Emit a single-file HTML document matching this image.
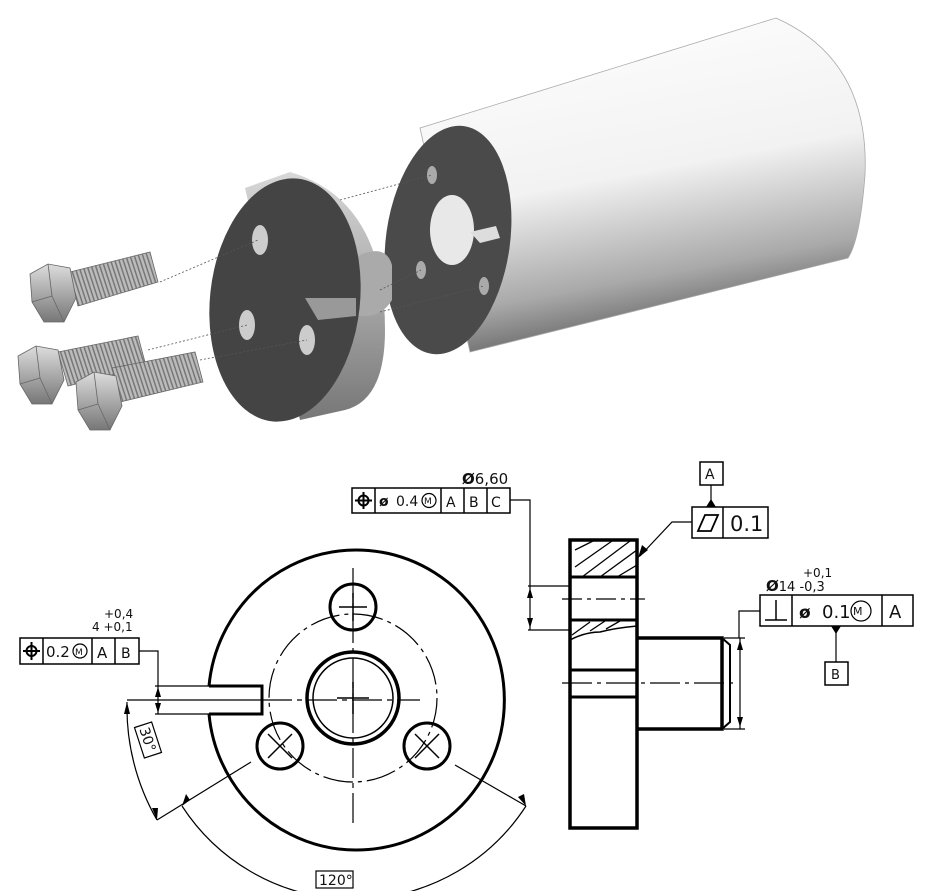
<!DOCTYPE html>
<html><head><meta charset="utf-8"><style>
html,body{margin:0;padding:0;background:#fff;}
svg{display:block}
text{font-family:"DejaVu Sans","Liberation Sans",sans-serif;fill:#111}
</style></head><body>
<svg width="930" height="891" viewBox="0 0 930 891" xmlns="http://www.w3.org/2000/svg">
<defs>
<linearGradient id="cyl" x1="0" y1="0" x2="0.25" y2="1">
<stop offset="0" stop-color="#fff"/><stop offset="0.55" stop-color="#f2f2f2"/><stop offset="0.85" stop-color="#a9a9a9"/><stop offset="1" stop-color="#6a6a6a"/></linearGradient>
<linearGradient id="rim" x1="0" y1="0" x2="0" y2="1">
<stop offset="0" stop-color="#d8d8d8"/><stop offset="1" stop-color="#777"/></linearGradient>
<linearGradient id="bolt" x1="0" y1="0" x2="0" y2="1">
<stop offset="0" stop-color="#ddd"/><stop offset="1" stop-color="#777"/></linearGradient>
<pattern id="thr" width="4" height="4" patternUnits="userSpaceOnUse" patternTransform="rotate(-18)">
<rect width="4" height="4" fill="#bbb"/><rect width="1.5" height="4" fill="#777"/></pattern>
</defs>

<!-- 3D: cylinder -->
<path d="M420,128 L776,18 Q870,60 865,175 Q860,240 848,258 L470,352 Z" fill="url(#cyl)" stroke="#aaa" stroke-width="0.8"/>
<ellipse cx="448" cy="240" rx="62" ry="115" fill="#4a4a4a" transform="rotate(8 448 240)"/>
<ellipse cx="452" cy="230" rx="22" ry="35" fill="#e8e8e8"/>
<ellipse cx="432" cy="175" rx="5" ry="9" fill="#aaa"/>
<ellipse cx="421" cy="270" rx="5" ry="9" fill="#aaa"/>
<ellipse cx="484" cy="286" rx="5" ry="9" fill="#aaa"/>
<path d="M470,232 L496,226 L500,238 L480,243Z" fill="#ddd"/>
<!-- flange -->
<path d="M245,188 L290,172 Q385,200 385,330 Q385,400 345,410 L300,420 Z" fill="url(#rim)"/>
<path d="M350,260 Q385,240 392,265 L392,300 Q380,320 355,315Z" fill="#aaa"/>
<ellipse cx="285" cy="300" rx="75" ry="122" fill="#444" transform="rotate(6 285 300)"/>
<path d="M305,298 L356,298 L356,316 L318,320Z" fill="#999"/>
<ellipse cx="260" cy="240" rx="8" ry="15" fill="#ccc"/>
<ellipse cx="247" cy="325" rx="8" ry="15" fill="#ccc"/>
<ellipse cx="307" cy="340" rx="8" ry="15" fill="#ccc"/>
<!-- dashed lines -->
<g stroke="#555" stroke-width="0.8" stroke-dasharray="2,2" fill="none">
<line x1="160" y1="282" x2="258" y2="240"/><line x1="340" y1="200" x2="432" y2="175"/>
<line x1="148" y1="350" x2="247" y2="325"/><line x1="200" y1="360" x2="307" y2="340"/>
<line x1="380" y1="290" x2="421" y2="270"/><line x1="380" y1="312" x2="484" y2="286"/>
</g>
<!-- bolts -->
<g stroke="#666" stroke-width="0.8">
<path d="M70,272 L150,252 L158,282 L78,306Z" fill="url(#thr)"/>
<polygon points="30,274 48,264 70,268 76,298 64,322 44,322 32,302" fill="url(#bolt)"/>
<line x1="48" y1="264" x2="52" y2="296"/><line x1="32" y1="302" x2="52" y2="296"/><line x1="52" y1="296" x2="64" y2="322"/>
<path d="M58,352 L138,336 L146,366 L68,386Z" fill="url(#thr)"/>
<polygon points="18,356 36,346 58,350 64,380 52,404 32,404 20,384" fill="url(#bolt)"/>
<line x1="36" y1="346" x2="40" y2="378"/><line x1="20" y1="384" x2="40" y2="378"/><line x1="40" y1="378" x2="52" y2="404"/>
<path d="M112,368 L195,352 L203,382 L120,402Z" fill="url(#thr)"/>
<polygon points="76,382 94,372 116,376 122,406 110,430 90,430 78,410" fill="url(#bolt)"/>
<line x1="94" y1="372" x2="98" y2="404"/><line x1="78" y1="410" x2="98" y2="404"/><line x1="98" y1="404" x2="110" y2="430"/>
</g>

<!-- 2D front view -->
<g fill="none" stroke="#000">
<path d="M209,686 A148,150 0 1 1 209,714" stroke-width="3"/>
<path d="M209,686 L262,686 L262,714 L209,714" stroke-width="3"/>
<circle cx="353" cy="698" r="46" stroke-width="3.5"/>
<circle cx="353" cy="698" r="40" stroke-width="1.5"/>
<circle cx="353" cy="607" r="23" stroke-width="3"/>
<circle cx="280" cy="746" r="23" stroke-width="3"/>
<circle cx="427" cy="746" r="23" stroke-width="3"/>
<g stroke-width="1.5">
<line x1="339" y1="607" x2="367" y2="607"/><line x1="353" y1="593" x2="353" y2="621"/>
<line x1="268" y1="734" x2="292" y2="758"/><line x1="292" y1="734" x2="268" y2="758"/>
<line x1="415" y1="734" x2="439" y2="758"/><line x1="439" y1="734" x2="415" y2="758"/>
<line x1="337" y1="698" x2="369" y2="698"/><line x1="353" y1="682" x2="353" y2="714"/>
</g>
<circle cx="353" cy="698" r="84" stroke-width="1.2" stroke-dasharray="30,5,4,5"/>
<line x1="353" y1="568" x2="353" y2="825" stroke-width="1.2" stroke-dasharray="30,5,5,5"/>
<line x1="262" y1="700" x2="420" y2="700" stroke-width="1.2" stroke-dasharray="30,5,5,5"/>
<g stroke-width="1.2">
<line x1="155" y1="686" x2="209" y2="686"/><line x1="155" y1="714" x2="209" y2="714"/>
<line x1="127" y1="700" x2="262" y2="700"/>
<polyline points="139,651 158,651 158,714"/>
<path d="M127,702 A226,226 0 0 0 157,820"/>
<line x1="157" y1="820" x2="251" y2="762"/>
<line x1="455" y1="765" x2="526" y2="806"/>
<path d="M182,806 A205,205 0 0 0 526,806"/>
<polyline points="510,500 530,500 530,630"/>
<line x1="528" y1="586" x2="570" y2="586"/><line x1="528" y1="630" x2="570" y2="630"/>
</g>
</g>
<g fill="#000">
<polygon points="127,702 124,714 130,714"/>
<polygon points="157,820 152,808 158,808"/>
<polygon points="182,806 186,794 190,800"/>
<polygon points="526,806 518,797 524,794"/>
<polygon points="530,588 527,598 533,598"/><polygon points="530,628 527,618 533,618"/>
<polygon points="158,687 155,697 161,697"/><polygon points="158,713 155,703 161,703"/>
</g>
<!-- FCF left -->
<g fill="none" stroke="#000" stroke-width="1.5">
<rect x="20" y="638" width="119" height="26"/>
<line x1="43" y1="638" x2="43" y2="664"/><line x1="92" y1="638" x2="92" y2="664"/><line x1="115" y1="638" x2="115" y2="664"/>
<circle cx="31.5" cy="651" r="5" stroke-width="2"/><line x1="23" y1="651" x2="40" y2="651" stroke-width="2"/><line x1="31.5" y1="642" x2="31.5" y2="660" stroke-width="2"/>
<circle cx="80" cy="651" r="7" stroke-width="1.2"/>
</g>
<text x="46" y="657" font-size="15">0.2</text><text x="75" y="655" font-size="9">M</text>
<text x="97" y="658" font-size="15">A</text><text x="121" y="658" font-size="14">B</text>
<text x="104" y="618" font-size="12">+0,4</text><text x="92" y="631" font-size="12">4 +0,1</text>
<!-- FCF top -->
<g fill="none" stroke="#000" stroke-width="1.5">
<rect x="352" y="488" width="158" height="25"/>
<line x1="375" y1="488" x2="375" y2="513"/><line x1="441" y1="488" x2="441" y2="513"/><line x1="464" y1="488" x2="464" y2="513"/><line x1="487" y1="488" x2="487" y2="513"/>
<circle cx="363.5" cy="500.5" r="5" stroke-width="2"/><line x1="355" y1="500.5" x2="372" y2="500.5" stroke-width="2"/><line x1="363.5" y1="492" x2="363.5" y2="509" stroke-width="2"/>
<circle cx="429" cy="500.5" r="7" stroke-width="1.2"/>
</g>
<text x="379" y="506" font-size="14" font-weight="bold">ø</text>
<text x="396" y="506" font-size="14">0.4</text><text x="424" y="504" font-size="9">M</text>
<text x="446" y="507" font-size="14">A</text><text x="469" y="507" font-size="14">B</text><text x="491" y="507" font-size="14">C</text>
<text x="462" y="484" font-size="15"><tspan font-weight="bold">Ø</tspan>6,60</text>
<g transform="translate(148,740) rotate(72)"><rect x="-16" y="-9" width="32" height="18" fill="#fff" stroke="#000" stroke-width="1.2"/><text x="-13" y="5" font-size="14">30°</text></g>
<rect x="316" y="871" width="37" height="17" fill="#fff" stroke="#000" stroke-width="1.2"/><text x="319" y="885" font-size="14">120°</text>

<!-- side view -->
<g fill="none" stroke="#000">
<rect x="570" y="540" width="67" height="288" stroke-width="3.5"/>
<line x1="570" y1="577" x2="637" y2="577" stroke-width="3"/>
<line x1="570" y1="620" x2="637" y2="620" stroke-width="3"/>
<line x1="570" y1="670" x2="637" y2="670" stroke-width="3"/>
<line x1="570" y1="697" x2="637" y2="697" stroke-width="3"/>
<path d="M570,640 Q585,632 600,632 Q615,628 637,626" stroke-width="1.5"/>
<path d="M637,638 L722,638 L722,729 L637,729" stroke-width="3.5"/>
<path d="M722,638 L730,645 L730,722 L722,729" stroke-width="2"/>
<line x1="562" y1="599" x2="645" y2="599" stroke-width="1.2" stroke-dasharray="20,5,4,5"/>
<line x1="562" y1="683" x2="735" y2="683" stroke-width="1.2" stroke-dasharray="30,5,4,5"/>
<g stroke-width="1.3">
<line x1="575" y1="550" x2="595" y2="540"/><line x1="575" y1="567" x2="612" y2="541"/><line x1="582" y1="577" x2="630" y2="541"/><line x1="600" y1="577" x2="637" y2="550"/><line x1="617" y1="577" x2="637" y2="565"/>
<line x1="572" y1="635" x2="590" y2="622"/><line x1="590" y1="631" x2="605" y2="621"/><line x1="606" y1="629" x2="620" y2="621"/>
</g>
<g stroke-width="1.2">
<line x1="724" y1="638" x2="745" y2="638"/><line x1="724" y1="729" x2="745" y2="729"/>
<line x1="740" y1="638" x2="740" y2="729"/>
<polyline points="760,611 739,611 739,638"/>
<polyline points="692,522 672,522 640,556"/>
<line x1="711" y1="485" x2="711" y2="507"/>
<line x1="836" y1="626" x2="836" y2="662"/>
</g>
</g>
<g fill="#000">
<polygon points="740,640 737,650 743,650"/><polygon points="740,727 737,717 743,717"/>
<polygon points="638,558 642,545 648,550"/>
<polygon points="706,507 716,507 711,499"/>
<polygon points="831,626 841,626 836,634"/>
</g>
<g fill="none" stroke="#000" stroke-width="1.5">
<rect x="700" y="462" width="23" height="23"/>
<rect x="692" y="507" width="76" height="31"/><line x1="723" y1="507" x2="723" y2="538"/>
<polygon points="698,531 705,515 718,515 711,531" stroke-width="1.8"/>
<rect x="760" y="595" width="153" height="31"/>
<line x1="792" y1="595" x2="792" y2="626"/><line x1="882" y1="595" x2="882" y2="626"/>
<line x1="776" y1="600" x2="776" y2="620"/><line x1="765" y1="620" x2="787" y2="620"/>
<circle cx="861" cy="611" r="10" stroke-width="1.2"/>
<rect x="825" y="662" width="23" height="23"/>
</g>
<text x="705" y="479" font-size="14">A</text>
<text x="730" y="531" font-size="21">0.1</text>
<text x="799" y="618" font-size="17" font-weight="bold">ø</text>
<text x="822" y="618" font-size="18">0.1</text><text x="853" y="615" font-size="11">M</text>
<text x="889" y="618" font-size="18">A</text>
<text x="831" y="679" font-size="13">B</text>
<text x="803" y="577" font-size="12">+0,1</text>
<text x="766" y="591" font-size="13"><tspan font-weight="bold" font-size="15">Ø</tspan>14 -0,3</text>
</svg>
</body></html>
